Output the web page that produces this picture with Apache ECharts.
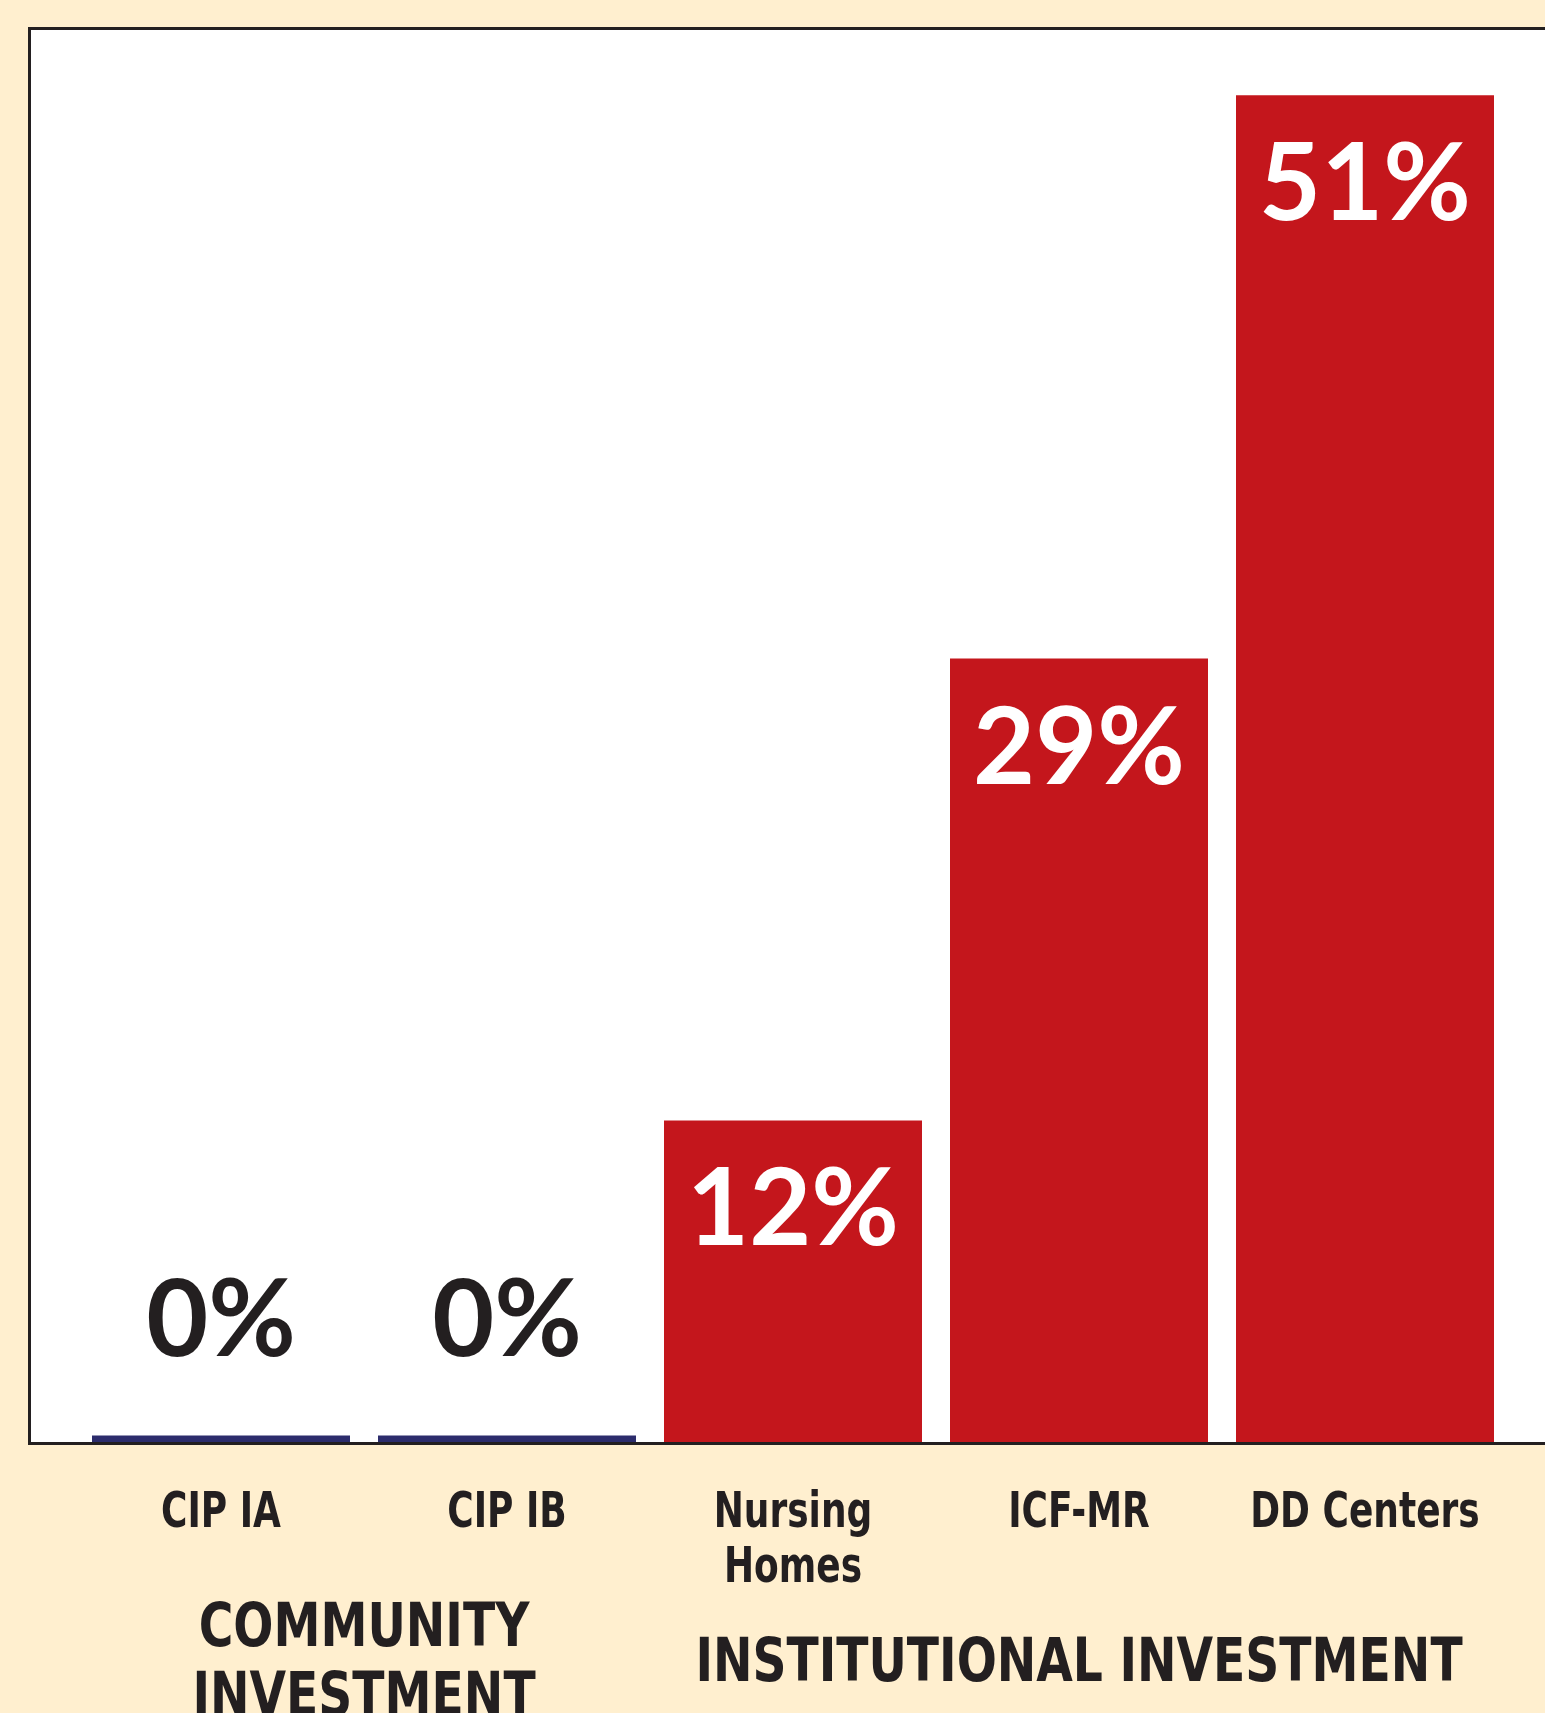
<!DOCTYPE html>
<html>
<head>
<meta charset="utf-8">
<script src="https://cdn.jsdelivr.net/npm/echarts@6/dist/echarts.min.js"></script>
<style>
  html, body { margin: 0; padding: 0; background: #FFEFCF; }
  #chart { width: 1545px; height: 1713px; }
</style>
</head>
<body>
<div id="chart"></div>
<script>
// categories and values
var categories = ['CIP IA', 'CIP IB', 'Nursing\nHomes', 'ICF-MR', 'DD Centers'];
var shares = [0.3, 0.3, 12.1, 29.4, 50.5];
var shareLabels = ['0%', '0%', '12%', '29%', '51%'];
var groups = ['community', 'community', 'institutional', 'institutional', 'institutional'];
var groupNames = ['COMMUNITY\nINVESTMENT', 'INSTITUTIONAL INVESTMENT'];

var ink = '#231F20';
var groupColor = {community: '#2C2C6C', institutional: '#C4161C'};
var condensed = '"DejaVu Sans Condensed", "DejaVu Sans", sans-serif';

var chart = echarts.init(document.getElementById('chart'));

var barData = shares.map(function (v, i) {
    var small = v < 1;
    return {
        value: v,
        itemStyle: {color: groupColor[groups[i]]},
        label: {
            show: true,
            formatter: shareLabels[i],
            position: small ? 'top' : 'insideTop',
            distance: small ? 60 : 37,
            color: small ? ink : '#ffffff',
            fontFamily: 'Lato',
            fontWeight: 'bold',
            fontSize: 107
        }
    };
});

var option = {
    backgroundColor: '#FFEFCF',
    animation: false,
    grid: {left: 78, right: 37, top: 28.5, bottom: 269.5, outerBoundsMode: 'none'},
    xAxis: {
        type: 'category',
        data: categories,
        z: 10,
        axisLine: {lineStyle: {color: ink, width: 3}},
        axisTick: {show: false},
        axisLabel: {show: false}
    },
    yAxis: {
        type: 'value',
        min: 0,
        max: 53,
        show: false,
        splitLine: {show: false}
    },
    series: [{
        type: 'bar',
        barWidth: 258,
        data: barData
    }]
};
chart.setOption(option);

// frame, category names and group titles, placed from the axis scale
var px = function (i) { return chart.convertToPixel({xAxisIndex: 0}, i); };
var communityX = (px(0) + px(1)) / 2;
var institutionalX = (px(2) + px(4)) / 2;

var graphics = [
    {type: 'rect', z: -1, shape: {x: 29.5, y: 28.5, width: 1600, height: 1415}, style: {fill: '#ffffff'}},
    {type: 'rect', z: 50, shape: {x: 29.5, y: 28.5, width: 1600, height: 1415}, style: {fill: 'none', stroke: ink, lineWidth: 3}}
];
categories.forEach(function (name, i) {
    graphics.push({
        type: 'text', z: 50, x: px(i), y: 1487, scaleX: 0.8,
        style: {text: name, align: 'center', verticalAlign: 'top',
            font: 'bold 50px ' + condensed, lineHeight: 55, fill: ink}
    });
});
graphics.push(
    {type: 'text', z: 50, x: communityX, y: 1665, scaleX: 0.875, style: {
        text: groupNames[0], align: 'center', verticalAlign: 'middle',
        font: 'bold 60px ' + condensed, lineHeight: 69, fill: ink}},
    {type: 'text', z: 50, x: institutionalX, y: 1665, scaleX: 0.875, style: {
        text: groupNames[1], align: 'center', verticalAlign: 'middle',
        font: 'bold 60px ' + condensed, lineHeight: 69, fill: ink}}
);
chart.setOption({graphic: graphics});
</script>
</body>
</html>
